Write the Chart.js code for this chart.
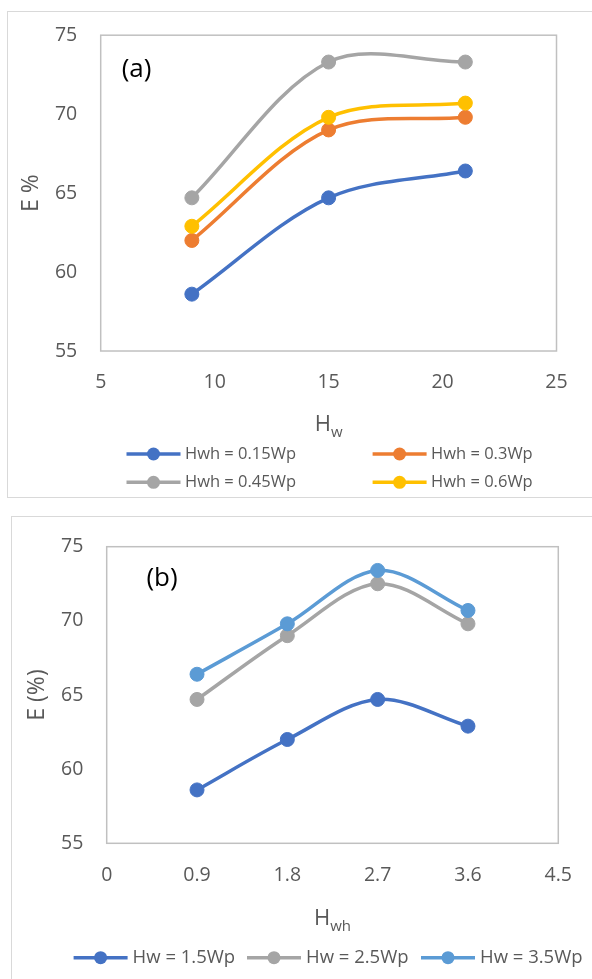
<!DOCTYPE html>
<html>
<head>
<meta charset="utf-8">
<style>
  html, body { margin: 0; padding: 0; background: #fff; width: 592px; height: 979px; overflow: hidden; }
  .frame { position: absolute; border: 1px solid #d9d9d9; box-sizing: border-box; }
  .holder { position: absolute; left: 0; }
  canvas { display: block; }
</style>
</head>
<body>
<div class="frame" style="left:7px; top:11px; width:620px; height:487px;"></div>
<div class="frame" style="left:11px; top:516px; width:620px; height:500px;"></div>
<div class="holder" style="top:0; width:592px; height:505px;"><canvas id="chartA" width="592" height="505"></canvas></div>
<div class="holder" style="top:505px; width:592px; height:474px;"><canvas id="chartB" width="592" height="474"></canvas></div>

<script src="https://cdn.jsdelivr.net/npm/chart.js@4.4.1/dist/chart.umd.min.js"></script>
<script>
// ---- Panel (a): efficiency vs. Hw for several Hwh ----
const hwValues = [9, 15, 21];
const eHwh015 = [58.6, 64.7, 66.4];
const eHwh030 = [62.0, 69.0, 69.8];
const eHwh045 = [64.7, 73.3, 73.3];
const eHwh060 = [62.9, 69.8, 70.7];
const hwTicks = [5, 10, 15, 20, 25];

// ---- Panel (b): efficiency vs. Hwh for several Hw ----
const hwhValues = [0.9, 1.8, 2.7, 3.6];
const eHw15 = [58.6, 62.0, 64.7, 62.9];
const eHw25 = [64.7, 69.0, 72.5, 69.8];
const eHw35 = [66.4, 69.8, 73.4, 70.7];
const hwhTicks = [0, 0.9, 1.8, 2.7, 3.6, 4.5];

// shared efficiency axis
const eTicks = [55, 60, 65, 70, 75];

const FONT = "'Open Sans', 'Noto Sans', sans-serif";
const TXT = '#595959';

function toPoints(xs, ys) {
  return xs.map((x, i) => ({ x: x, y: ys[i] }));
}

function series(label, color, xs, ys, order) {
  return {
    label: label,
    data: toPoints(xs, ys),
    borderColor: color,
    backgroundColor: color,
    pointBackgroundColor: color,
    pointBorderColor: color,
    borderWidth: 3.5,
    pointRadius: 7,
    pointHoverRadius: 7,
    pointBorderWidth: 1,
    tension: 0.33,
    fill: false,
    order: order
  };
}

// grey rectangle around the plotting area
const plotFrame = {
  id: 'plotFrame',
  beforeDatasetsDraw(chart) {
    const { ctx, chartArea: a } = chart;
    ctx.save();
    ctx.strokeStyle = '#c0c0c0';
    ctx.lineWidth = 1.5;
    ctx.strokeRect(a.left, a.top, a.right - a.left, a.bottom - a.top);
    ctx.restore();
  }
};

// axis titles (with subscript), panel tag and the legend
const decor = {
  id: 'decor',
  afterDraw(chart, args, o) {
    const { ctx, chartArea: a } = chart;

    // rotated y title
    ctx.save();
    ctx.fillStyle = TXT;
    ctx.font = o.yTitleSize + 'px ' + FONT;
    ctx.translate(o.yTitleX, (a.top + a.bottom) / 2);
    ctx.rotate(-Math.PI / 2);
    ctx.textAlign = 'center';
    ctx.textBaseline = 'middle';
    ctx.fillText(o.yTitle, 0, 0);
    ctx.restore();

    // x title: main letter + subscript
    ctx.save();
    ctx.fillStyle = TXT;
    ctx.textBaseline = 'alphabetic';
    ctx.textAlign = 'left';
    ctx.font = o.xMainSize + 'px ' + FONT;
    const wMain = ctx.measureText(o.xMain).width;
    ctx.font = o.xSubSize + 'px ' + FONT;
    const wSub = ctx.measureText(o.xSub).width;
    const x0 = (a.left + a.right) / 2 - (wMain + wSub) / 2;
    const base = a.bottom + o.xTitleDrop;
    ctx.font = o.xMainSize + 'px ' + FONT;
    ctx.fillText(o.xMain, x0, base);
    ctx.font = o.xSubSize + 'px ' + FONT;
    ctx.fillText(o.xSub, x0 + wMain, base + o.xSubShift);
    ctx.restore();

    // panel tag
    ctx.save();
    ctx.fillStyle = '#000';
    ctx.font = o.tagSize + 'px ' + FONT;
    ctx.textAlign = 'left';
    ctx.textBaseline = 'middle';
    ctx.fillText(o.tag, a.left + o.tagDx, a.top + o.tagDy);
    ctx.restore();

    // legend
    ctx.save();
    ctx.font = o.legendSize + 'px ' + FONT;
    ctx.textAlign = 'left';
    ctx.textBaseline = 'middle';
    chart.data.datasets.forEach((ds, i) => {
      const [lx, ly] = o.legendSlots[i];
      ctx.strokeStyle = ds.borderColor;
      ctx.lineWidth = 3.5;
      ctx.lineCap = 'butt';
      ctx.beginPath();
      ctx.moveTo(lx, ly);
      ctx.lineTo(lx + o.legendLine, ly);
      ctx.stroke();
      ctx.fillStyle = ds.borderColor;
      ctx.beginPath();
      ctx.arc(lx + o.legendLine / 2, ly, 6.5, 0, Math.PI * 2);
      ctx.fill();
      ctx.fillStyle = TXT;
      ctx.fillText(ds.label, lx + o.legendText, ly);
    });
    ctx.restore();
  }
};

function makeChart(canvasId, datasets, xMin, xMax, xTicks, pad, deco) {
  return new Chart(document.getElementById(canvasId), {
    type: 'line',
    data: { datasets: datasets },
    options: {
      responsive: false,
      animation: false,
      events: [],
      layout: { padding: pad.padding },
      plugins: {
        legend: { display: false },
        tooltip: { enabled: false },
        decor: deco
      },
      scales: {
        x: {
          type: 'linear',
          min: xMin,
          max: xMax,
          afterBuildTicks: s => { s.ticks = xTicks.map(v => ({ value: v })); },
          afterFit: s => { s.height = 40; },
          grid: { display: false, drawTicks: false },
          border: { display: false },
          ticks: { color: TXT, font: { family: FONT, size: 19.5 }, padding: pad.xTickPad,
                   callback: v => String(v) }
        },
        y: {
          min: 55,
          max: 75,
          afterBuildTicks: s => { s.ticks = eTicks.map(v => ({ value: v })); },
          afterFit: s => { s.width = pad.yWidth; },
          grid: { display: false, drawTicks: false },
          border: { display: false },
          ticks: { color: TXT, font: { family: FONT, size: 19.5 }, padding: pad.yTickPad }
        }
      }
    },
    plugins: [plotFrame, decor]
  });
}

makeChart('chartA', [
    series('Hwh = 0.15Wp', '#4472C4', hwValues, eHwh015, 4),
    series('Hwh = 0.3Wp',  '#ED7D31', hwValues, eHwh030, 3),
    series('Hwh = 0.45Wp', '#A5A5A5', hwValues, eHwh045, 2),
    series('Hwh = 0.6Wp',  '#FFC000', hwValues, eHwh060, 1)
  ], 5, 25, hwTicks,
  { padding: { left: 0, top: 30, right: 35.5, bottom: 114 }, yWidth: 100.7, yTickPad: 23.5, xTickPad: 20 },
  {
    yTitle: 'E %', yTitleX: 31, yTitleSize: 23,
    xMain: 'H', xSub: 'w', xMainSize: 22, xSubSize: 15, xTitleDrop: 79.5, xSubShift: 6,
    tag: '(a)', tagSize: 26, tagDx: 21, tagDy: 34,
    legendSize: 16.5, legendLine: 54, legendText: 58.5,
    legendSlots: [[126.5, 454], [372.6, 454], [126.5, 482.3], [372.6, 482.3]]
  });

makeChart('chartB', [
    series('Hw = 1.5Wp', '#4472C4', hwhValues, eHw15, 3),
    series('Hw = 2.5Wp', '#A5A5A5', hwhValues, eHw25, 2),
    series('Hw = 3.5Wp', '#5B9BD5', hwhValues, eHw35, 1)
  ], 0, 4.5, hwhTicks,
  { padding: { left: 0, top: 41.7, right: 27, bottom: 95.7 }, yWidth: 106.7, yTickPad: 23.4, xTickPad: 20 },
  {
    yTitle: 'E (%)', yTitleX: 37, yTitleSize: 23,
    xMain: 'H', xSub: 'wh', xMainSize: 22, xSubSize: 15, xTitleDrop: 81.7, xSubShift: 6,
    tag: '(b)', tagSize: 26, tagDx: 39.7, tagDy: 32.3,
    legendSize: 18.5, legendLine: 54, legendText: 59,
    legendSlots: [[73.6, 452.7], [247, 452.7], [421, 452.7]]
  });
</script>
</body>
</html>
